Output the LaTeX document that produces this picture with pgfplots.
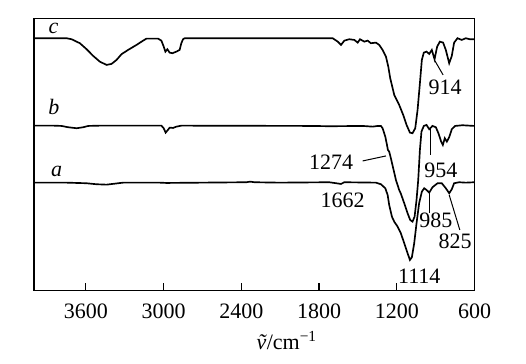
\documentclass[border=0pt]{standalone}
\usepackage{pgfplots}
\pgfplotsset{compat=1.18}
\usepackage{pgfplotstable}
\usepackage{fontspec}
\setmainfont{Liberation Serif}

\pgfplotstableread{
wn h
3997 252.4
3748 252.4
3710 251.4
3646 247.4
3594 241.4
3543 234.7
3492 229.0
3440 225.7
3402 226.7
3363 230.7
3325 236.4
3274 240.7
3209 245.7
3158 250.0
3132 252.0
3043 252.0
3017 250.0
2999 244.0
2986 239.0
2971 241.4
2953 238.0
2932 237.4
2901 239.0
2876 240.7
2863 247.4
2850 251.4
2837 252.4
1721 252.4
1695 252.4
1656 249.0
1631 245.7
1605 250.0
1567 251.4
1528 250.7
1502 248.0
1484 251.4
1451 249.0
1425 250.0
1400 247.4
1361 248.0
1336 245.7
1310 240.7
1284 234.0
1266 224.0
1251 212.4
1220 195.7
1182 185.7
1151 175.7
1125 165.7
1099 158.0
1079 157.4
1058 162.4
1040 180.7
1022 207.4
1007 230.7
992 238.0
971 239.0
950 236.7
930 240.7
909 231.4
889 244.0
868 249.0
843 248.0
822 240.7
796 227.4
776 234.7
758 248.0
732 252.4
699 250.7
668 252.4
637 251.4
601 251.4
}\curvec

\pgfplotstableread{
wn h
3997 165.0
3851 165.0
3787 164.7
3736 163.4
3671 162.4
3620 163.4
3582 164.7
3492 165.0
3017 165.0
2999 162.4
2984 158.0
2971 160.0
2953 163.0
2927 162.7
2901 164.0
2863 165.0
1849 164.7
1721 164.4
1464 164.7
1387 164.0
1348 164.7
1323 164.7
1310 162.4
1289 154.0
1276 145.7
1269 140.7
1259 139.0
1246 132.4
1228 122.4
1207 110.7
1182 100.7
1169 97.0
1143 87.4
1117 77.4
1097 70.7
1079 69.0
1063 74.0
1048 90.7
1035 110.7
1022 140.7
1010 159.0
992 164.7
971 165.7
950 161.4
925 164.7
899 163.4
879 157.4
858 149.0
845 145.7
830 152.4
814 149.0
796 153.4
776 161.4
750 164.7
694 165.4
601 164.7
}\curveb

\pgfplotstableread{
wn h
3997 108.0
3748 108.0
3594 107.4
3517 106.4
3440 106.0
3376 107.0
3312 108.0
3030 108.0
2978 107.7
2362 108.4
2332 109.0
2298 108.4
2106 108.0
1721 108.4
1631 106.7
1605 108.4
1361 108.0
1323 106.4
1289 102.4
1271 95.7
1259 85.7
1238 74.0
1220 69.0
1194 64.0
1169 57.4
1143 47.4
1117 37.4
1099 30.7
1084 33.4
1066 47.4
1048 67.4
1028 87.4
1007 99.0
989 102.4
971 100.7
950 98.0
925 103.4
886 107.4
853 107.4
822 102.4
796 97.4
776 101.4
758 107.4
719 108.4
668 108.0
604 108.4
}\curvea

\begin{document}
\begin{tikzpicture}
\useasboundingbox (-25.5pt,-55pt) rectangle (369pt,218pt);
\begin{axis}[
  scale only axis,
  width=330.45pt, height=204.15pt,
  x dir=reverse,
  xmin=600, xmax=4000,
  ymin=0, ymax=272.2,
  axis line style={line width=1pt},
  xtick={600,1200,1800,2400,3000,3600},
  xticklabels={600,1200,1800,2400,3000,3600},
  ytick=\empty,
  xtick pos=bottom,
  tick align=inside,
  major tick length=6pt,
  every tick/.style={line width=0.9pt, black},
  every tick label/.append style={font=\fontsize{16.5}{19}\selectfont, yshift=-6pt},
  xlabel={\textit{\~{v}}/cm\textsuperscript{−1}},
  xlabel style={font=\fontsize{16.5}{19}\selectfont, at={(axis description cs:0.5735,0)}, anchor=center, yshift=-37.5pt},
  clip=false,
]
\addplot[black, line width=1.25pt] table[x=wn,y=h] {\curvec};
\addplot[black, line width=1.25pt] table[x=wn,y=h] {\curveb};
\addplot[black, line width=1.25pt] table[x=wn,y=h] {\curvea};

\begin{scope}[every node/.style={font=\fontsize{16.5}{19}\selectfont, inner sep=0pt}]
\node at (axis cs:3850,262.4) {\textit{c}};
\node at (axis cs:3846,183.4) {\textit{b}};
\node at (axis cs:3825,119.0) {\textit{a}};
\node at (axis cs:827,203.4) {914};
\node at (axis cs:861,120.7) {954};
\node at (axis cs:1708,128.4) {1274};
\node at (axis cs:1618,90.7) {1662};
\node at (axis cs:899,70.7) {985};
\node at (axis cs:750,49.0) {825};
\node at (axis cs:1027,14.7) {1114};
\end{scope}
\draw[line width=0.75pt] (axis cs:910,230.7) -- (axis cs:843,215.7);
\draw[line width=0.75pt] (axis cs:943,162.4) -- (axis cs:943,135.7);
\draw[line width=0.75pt] (axis cs:1464,129.7) -- (axis cs:1284,134.7);
\draw[line width=0.75pt] (axis cs:950,99.0) -- (axis cs:950,77.4);
\draw[line width=0.75pt] (axis cs:796,95.7) -- (axis cs:714,60.7);
\end{axis}
\end{tikzpicture}
\end{document}
